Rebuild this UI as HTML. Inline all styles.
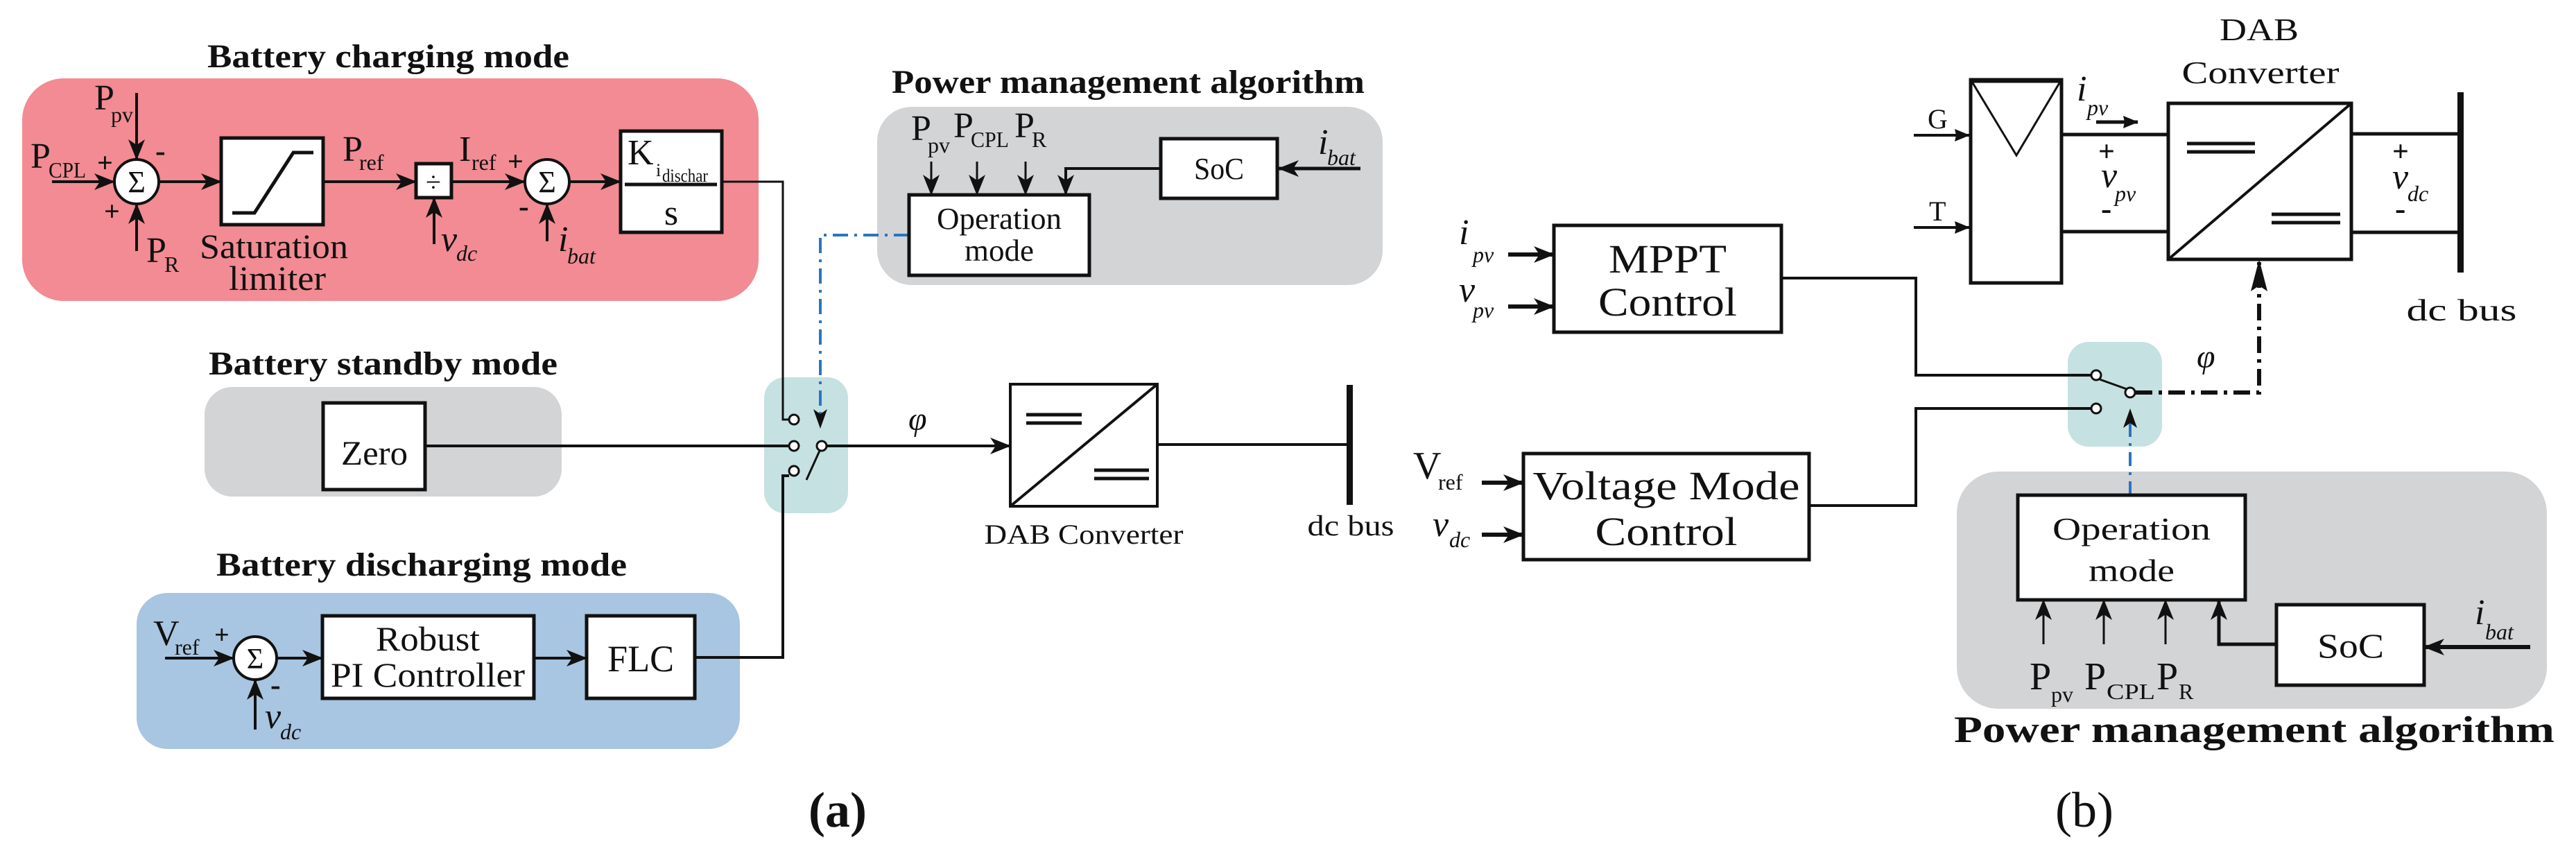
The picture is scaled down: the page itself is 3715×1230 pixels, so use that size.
<!DOCTYPE html>
<html><head><meta charset="utf-8"><style>
html,body{margin:0;padding:0;background:#fff}
svg{display:block}
text{font-family:"Liberation Serif",serif;fill:#111}
.t{font-weight:bold;font-size:48px}
.l{font-size:52px}
.s{font-size:32px}
.i{font-style:italic}
</style></head><body>
<svg width="3715" height="1230" viewBox="0 0 3715 1230" xmlns="http://www.w3.org/2000/svg">
<defs>
<marker id="a" markerWidth="30" markerHeight="24" refX="29" refY="12" orient="auto" markerUnits="userSpaceOnUse"><path d="M0,0 L30,12 L0,24 L8,12z" fill="#111"/></marker>
<marker id="b" markerWidth="22" markerHeight="18" refX="21" refY="9" orient="auto" markerUnits="userSpaceOnUse"><path d="M0,0 L22,9 L0,18 L2,9z" fill="#111"/></marker>
</defs>
<g stroke="#111" stroke-width="4" fill="none">

<!-- ===== (a) ===== -->
<rect x="32" y="113" width="1062" height="321" rx="60" fill="#f28b93" stroke="none"/>
<rect x="295" y="558" width="515" height="158" rx="40" fill="#d3d4d6" stroke="none"/>
<rect x="197" y="855" width="870" height="225" rx="45" fill="#a8c5e1" stroke="none"/>
<rect x="1265" y="154" width="729" height="257" rx="50" fill="#d3d4d6" stroke="none"/>
<rect x="1102" y="544" width="121" height="196" rx="30" fill="#c5e1e1" stroke="none"/>

<!-- charging -->
<line x1="75" y1="262" x2="165" y2="262" marker-end="url(#a)"/>
<line x1="197" y1="134" x2="197" y2="230" marker-end="url(#a)"/>
<line x1="197" y1="362" x2="197" y2="294" marker-end="url(#a)"/>
<circle cx="197" cy="262" r="32" fill="#fff"/>
<line x1="229" y1="262" x2="319" y2="262" marker-end="url(#a)"/>
<rect x="319" y="199" width="147" height="125" fill="#fff" stroke-width="5"/>
<polyline points="335,307 367,307 423,220 452,220" stroke-width="5"/>
<line x1="466" y1="262" x2="600" y2="262" marker-end="url(#a)"/>
<rect x="600" y="236" width="51" height="49" fill="#fff" stroke-width="5"/>
<line x1="626" y1="352" x2="626" y2="285" marker-end="url(#a)"/>
<line x1="651" y1="262" x2="757" y2="262" marker-end="url(#a)"/>
<circle cx="789" cy="262" r="32" fill="#fff"/>
<line x1="789" y1="348" x2="789" y2="294" marker-end="url(#a)"/>
<line x1="821" y1="262" x2="895" y2="262" marker-end="url(#a)"/>
<rect x="895" y="189" width="146" height="146" fill="#fff" stroke-width="5"/>
<line x1="901" y1="266" x2="1034" y2="266" stroke-width="5"/>
<path d="M1041,262 H1129 V605 H1138" stroke-width="3"/>

<!-- standby -->
<rect x="466" y="581" width="147" height="125" fill="#fff" stroke-width="5"/>
<line x1="613" y1="643" x2="1138" y2="643"/>

<!-- switch a -->
<circle cx="1145" cy="605" r="7" fill="#fff" stroke-width="3"/>
<circle cx="1145" cy="643" r="7" fill="#fff" stroke-width="3"/>
<circle cx="1145" cy="679" r="7" fill="#fff" stroke-width="3"/>
<circle cx="1185" cy="643" r="7" fill="#fff" stroke-width="3"/>
<line x1="1182" y1="650" x2="1163" y2="692" stroke-width="3"/>
<path d="M1311,339 H1183 V612" stroke="#2a74c0" stroke-dasharray="22,9,4,9"/>
<path d="M1173,590 L1183,618 L1193,590 L1183,597z" fill="#111" stroke="none"/>
<line x1="1192" y1="643" x2="1457" y2="643" marker-end="url(#a)"/>
<rect x="1457" y="554" width="212" height="176" fill="#fff"/>
<line x1="1457" y1="730" x2="1669" y2="554"/>
<path d="M1480,598 H1560 M1480,610 H1560 M1578,678 H1657 M1578,690 H1657" stroke-width="5"/>
<line x1="1669" y1="641" x2="1946" y2="641"/>
<rect x="1942" y="555" width="9" height="173" fill="#111" stroke="none"/>

<!-- discharging -->
<line x1="238" y1="949" x2="337" y2="949" marker-end="url(#a)"/>
<circle cx="368" cy="949" r="31" fill="#fff"/>
<line x1="368" y1="1052" x2="368" y2="980" marker-end="url(#a)"/>
<line x1="399" y1="949" x2="465" y2="949" marker-end="url(#a)"/>
<rect x="465" y="888" width="305" height="119" fill="#fff" stroke-width="5"/>
<line x1="770" y1="949" x2="846" y2="949" marker-end="url(#a)"/>
<rect x="846" y="888" width="156" height="119" fill="#fff" stroke-width="5"/>
<path d="M1002,948 H1129 V686 H1138"/>

<!-- PMA a -->
<line x1="1343" y1="233" x2="1343" y2="281" marker-end="url(#a)" stroke-width="3"/>
<line x1="1409" y1="233" x2="1409" y2="281" marker-end="url(#a)" stroke-width="3"/>
<line x1="1479" y1="233" x2="1479" y2="281" marker-end="url(#a)" stroke-width="3"/>
<path d="M1674,243 H1537 V281" marker-end="url(#a)"/>
<rect x="1674" y="200" width="168" height="86" fill="#fff" stroke-width="5"/>
<line x1="1962" y1="243" x2="1844" y2="243" marker-end="url(#a)" stroke-width="5"/>
<rect x="1311" y="281" width="260" height="116" fill="#fff" stroke-width="5"/>

<!-- ===== (b) ===== -->
<rect x="2822" y="680" width="851" height="342" rx="60" fill="#d3d4d6" stroke="none"/>
<rect x="2982" y="493" width="136" height="151" rx="30" fill="#c5e1e1" stroke="none"/>
<rect x="2842" y="115" width="131" height="293" fill="#fff" stroke-width="5"/>
<polygon points="2844,118 2971,118 2908,224" stroke-width="3"/>
<line x1="2760" y1="195" x2="2840" y2="195" marker-end="url(#b)"/>
<line x1="2760" y1="328" x2="2840" y2="328" marker-end="url(#b)"/>
<line x1="2973" y1="194" x2="3127" y2="194" stroke-width="5"/>
<line x1="2973" y1="334" x2="3127" y2="334" stroke-width="5"/>
<line x1="3023" y1="176" x2="3083" y2="176" marker-end="url(#b)" stroke-width="5"/>
<rect x="3127" y="149" width="264" height="225" fill="#fff" stroke-width="5"/>
<line x1="3127" y1="374" x2="3391" y2="149"/>
<path d="M3154,207 H3252 M3154,219 H3252 M3276,309 H3375 M3276,321 H3375" stroke-width="5"/>
<line x1="3391" y1="193" x2="3548" y2="193" stroke-width="5"/>
<line x1="3391" y1="335" x2="3548" y2="335" stroke-width="5"/>
<rect x="3544" y="133" width="9" height="260" fill="#111" stroke="none"/>

<rect x="2241" y="325" width="328" height="154" fill="#fff" stroke-width="5"/>
<line x1="2175" y1="367" x2="2241" y2="367" marker-end="url(#a)" stroke-width="6"/>
<line x1="2175" y1="442" x2="2241" y2="442" marker-end="url(#a)" stroke-width="6"/>
<path d="M2569,401 H2763 V541 H3016"/>
<path d="M3016,589 H2763 V729 H2609"/>
<circle cx="3023" cy="541" r="7" fill="#fff" stroke-width="3"/>
<circle cx="3023" cy="589" r="7" fill="#fff" stroke-width="3"/>
<circle cx="3072" cy="566" r="7" fill="#fff" stroke-width="3"/>
<line x1="3028" y1="547" x2="3067" y2="561" stroke-width="3"/>
<path d="M3080,566 H3258 V378" stroke-width="6" stroke-dasharray="24,9,5,9"/>
<path d="M3246,420 L3258,374 L3270,420 L3258,412z" fill="#111" stroke="none"/>
<line x1="3072" y1="714" x2="3072" y2="600" stroke="#2a74c0" stroke-dasharray="20,9,4,9"/>
<path d="M3062,617 L3072,589 L3082,617 L3072,610z" fill="#111" stroke="none"/>

<rect x="2197" y="654" width="412" height="153" fill="#fff" stroke-width="5"/>
<line x1="2137" y1="696" x2="2197" y2="696" marker-end="url(#a)" stroke-width="6"/>
<line x1="2137" y1="771" x2="2197" y2="771" marker-end="url(#a)" stroke-width="6"/>

<rect x="2910" y="714" width="328" height="151" fill="#fff" stroke-width="5"/>
<line x1="2947" y1="929" x2="2947" y2="865" marker-end="url(#a)" stroke-width="3"/>
<line x1="3034" y1="929" x2="3034" y2="865" marker-end="url(#a)" stroke-width="3"/>
<line x1="3123" y1="929" x2="3123" y2="865" marker-end="url(#a)" stroke-width="3"/>
<path d="M3283,929 H3200 V865" marker-end="url(#a)" stroke-width="5"/>
<rect x="3283" y="872" width="213" height="116" fill="#fff" stroke-width="5"/>
<line x1="3649" y1="933" x2="3496" y2="933" marker-end="url(#a)" stroke-width="6"/>
</g>

<!-- ===== text (a) ===== -->
<text class="t" x="299" y="97" textLength="522" lengthAdjust="spacingAndGlyphs">Battery charging mode</text>
<text class="l" x="136" y="158">P</text><text class="s" x="160" y="176">pv</text>
<text class="l" x="44" y="242">P</text><text class="s" x="70" y="256" textLength="54" lengthAdjust="spacingAndGlyphs">CPL</text>
<text class="l" x="211" y="378">P</text><text class="s" x="237" y="392">R</text>
<text x="140" y="248" style="font-size:40px;font-weight:bold">+</text>
<text x="150" y="318" style="font-size:40px;font-weight:bold">+</text>
<text x="224" y="232" style="font-size:44px;font-weight:bold">-</text>
<text x="197" y="277" text-anchor="middle" style="font-size:44px">Σ</text>
<text x="789" y="277" text-anchor="middle" style="font-size:44px">Σ</text>
<text x="368" y="964" text-anchor="middle" style="font-size:42px">Σ</text>
<text x="395" y="372" text-anchor="middle" style="font-size:50px" textLength="214" lengthAdjust="spacingAndGlyphs">Saturation</text>
<text x="400" y="418" text-anchor="middle" style="font-size:50px" textLength="140" lengthAdjust="spacingAndGlyphs">limiter</text>
<text class="l" x="494" y="232">P</text><text class="s" x="518" y="245">ref</text>
<text class="l" x="662" y="232">I</text><text class="s" x="680" y="245">ref</text>
<text x="625" y="276" text-anchor="middle" style="font-size:40px">÷</text>
<text class="l i" x="636" y="362">v</text><text class="s i" x="658" y="376">dc</text>
<text x="732" y="246" style="font-size:40px;font-weight:bold">+</text>
<text x="748" y="312" style="font-size:44px;font-weight:bold">-</text>
<text class="l i" x="805" y="362">i</text><text class="s i" x="818" y="380">bat</text>
<text class="l" x="905" y="237">K</text><text style="font-size:26px" x="946" y="254">i</text><text style="font-size:26px" x="955" y="262" textLength="66" lengthAdjust="spacingAndGlyphs">dischar</text>
<text class="l" x="968" y="324" text-anchor="middle">s</text>

<text class="t" x="301" y="540" textLength="503" lengthAdjust="spacingAndGlyphs">Battery standby mode</text>
<text x="540" y="670" text-anchor="middle" style="font-size:50px" textLength="96" lengthAdjust="spacingAndGlyphs">Zero</text>
<text class="i" x="1310" y="620" style="font-size:48px">φ</text>
<text x="1563" y="784" text-anchor="middle" style="font-size:40px" textLength="287" lengthAdjust="spacingAndGlyphs">DAB Converter</text>
<text x="1948" y="772" text-anchor="middle" style="font-size:42px" textLength="125" lengthAdjust="spacingAndGlyphs">dc bus</text>

<text class="t" x="312" y="830" textLength="592" lengthAdjust="spacingAndGlyphs">Battery discharging mode</text>
<text class="l" x="221" y="930">V</text><text class="s" x="252" y="944">ref</text>
<text x="309" y="928" style="font-size:38px;font-weight:bold">+</text>
<text x="390" y="1002" style="font-size:44px;font-weight:bold">-</text>
<text class="l i" x="382" y="1050">v</text><text class="s i" x="404" y="1066">dc</text>
<text x="617" y="938" text-anchor="middle" style="font-size:50px" textLength="150" lengthAdjust="spacingAndGlyphs">Robust</text>
<text x="617" y="990" text-anchor="middle" style="font-size:50px" textLength="280" lengthAdjust="spacingAndGlyphs">PI Controller</text>
<text x="924" y="968" text-anchor="middle" style="font-size:54px" textLength="96" lengthAdjust="spacingAndGlyphs">FLC</text>
<text x="1208" y="1192" text-anchor="middle" style="font-size:72px;font-weight:bold">(a)</text>

<text class="t" x="1286" y="134" textLength="682" lengthAdjust="spacingAndGlyphs">Power management algorithm</text>
<text class="l" x="1314" y="202">P</text><text class="s" x="1338" y="220">pv</text>
<text class="l" x="1375" y="198">P</text><text class="s" x="1400" y="212" textLength="55" lengthAdjust="spacingAndGlyphs">CPL</text>
<text class="l" x="1463" y="198">P</text><text class="s" x="1488" y="212">R</text>
<text x="1441" y="330" text-anchor="middle" style="font-size:44px" textLength="180" lengthAdjust="spacingAndGlyphs">Operation</text>
<text x="1441" y="376" text-anchor="middle" style="font-size:44px" textLength="100" lengthAdjust="spacingAndGlyphs">mode</text>
<text x="1758" y="258" text-anchor="middle" style="font-size:44px" textLength="72" lengthAdjust="spacingAndGlyphs">SoC</text>
<text class="l i" x="1901" y="222">i</text><text class="s i" x="1914" y="238">bat</text>

<!-- ===== text (b) ===== -->
<text x="3258" y="58" text-anchor="middle" style="font-size:46px" textLength="114" lengthAdjust="spacingAndGlyphs">DAB</text>
<text x="3260" y="120" text-anchor="middle" style="font-size:46px" textLength="227" lengthAdjust="spacingAndGlyphs">Converter</text>
<text x="2780" y="185" style="font-size:40px">G</text>
<text x="2782" y="318" style="font-size:40px">T</text>
<text class="l i" x="2995" y="145">i</text><text class="s i" x="3010" y="166">pv</text>
<text x="3026" y="232" style="font-size:42px;font-weight:bold">+</text>
<text class="l i" x="3030" y="270">v</text><text class="s i" x="3050" y="290">pv</text>
<text x="3030" y="316" style="font-size:46px;font-weight:bold">-</text>
<text x="3450" y="232" style="font-size:42px;font-weight:bold">+</text>
<text class="l i" x="3450" y="272">v</text><text class="s i" x="3472" y="290">dc</text>
<text x="3454" y="316" style="font-size:46px;font-weight:bold">-</text>
<text x="3550" y="462" text-anchor="middle" style="font-size:44px" textLength="159" lengthAdjust="spacingAndGlyphs">dc bus</text>

<text class="l i" x="2104" y="352">i</text><text class="s i" x="2124" y="378">pv</text>
<text class="l i" x="2104" y="435">v</text><text class="s i" x="2124" y="458">pv</text>
<text x="2405" y="393" text-anchor="middle" style="font-size:58px" textLength="170" lengthAdjust="spacingAndGlyphs">MPPT</text>
<text x="2405" y="455" text-anchor="middle" style="font-size:58px" textLength="200" lengthAdjust="spacingAndGlyphs">Control</text>
<text class="i" x="3168" y="530" style="font-size:48px">φ</text>

<text class="l" x="2038" y="690" style="font-size:56px">V</text><text class="s" x="2074" y="706">ref</text>
<text class="l i" x="2066" y="773">v</text><text class="s i" x="2090" y="789">dc</text>
<text x="2403" y="720" text-anchor="middle" style="font-size:58px" textLength="385" lengthAdjust="spacingAndGlyphs">Voltage Mode</text>
<text x="2403" y="786" text-anchor="middle" style="font-size:58px" textLength="205" lengthAdjust="spacingAndGlyphs">Control</text>

<text x="3074" y="778" text-anchor="middle" style="font-size:46px" textLength="228" lengthAdjust="spacingAndGlyphs">Operation</text>
<text x="3074" y="838" text-anchor="middle" style="font-size:46px" textLength="124" lengthAdjust="spacingAndGlyphs">mode</text>
<text class="l" x="2927" y="994" style="font-size:56px">P</text><text class="s" x="2958" y="1012">pv</text>
<text class="l" x="3006" y="994" style="font-size:56px">P</text><text class="s" x="3038" y="1008" textLength="70" lengthAdjust="spacingAndGlyphs">CPL</text>
<text class="l" x="3110" y="994" style="font-size:56px">P</text><text class="s" x="3142" y="1008">R</text>
<text x="3390" y="948" text-anchor="middle" style="font-size:50px" textLength="96" lengthAdjust="spacingAndGlyphs">SoC</text>
<text class="l i" x="3569" y="900">i</text><text class="s i" x="3584" y="922">bat</text>
<text class="t" x="2818" y="1070" style="font-size:54px" textLength="866" lengthAdjust="spacingAndGlyphs">Power management algorithm</text>
<text x="3006" y="1192" text-anchor="middle" style="font-size:72px">(b)</text>
</svg>
</body></html>
